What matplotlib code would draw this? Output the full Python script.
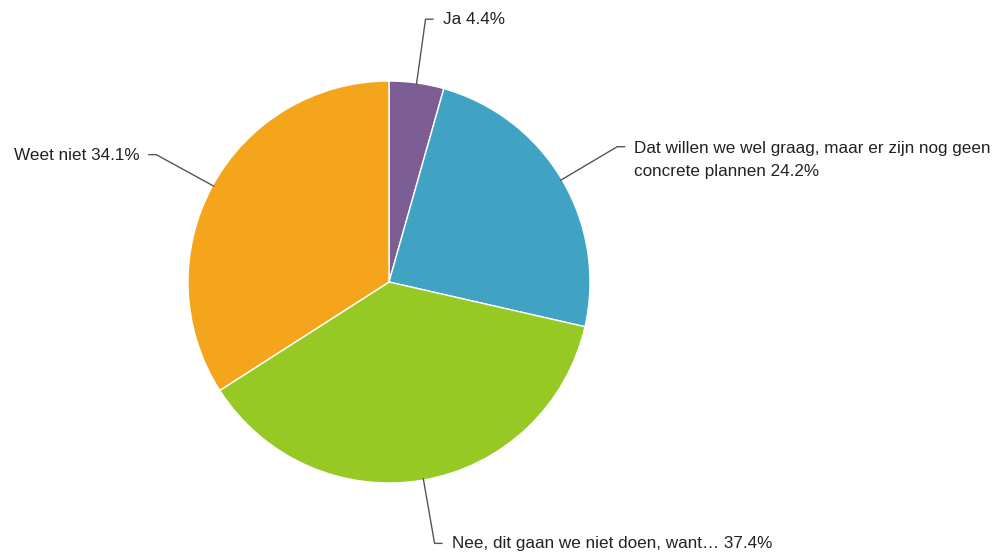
import matplotlib.pyplot as plt
import numpy as np

plt.rcParams["font.family"] = ["Liberation Sans", "DejaVu Sans"]

labels = [
    "Ja",
    "Dat willen we wel graag, maar er zijn nog geen\nconcrete plannen",
    "Nee, dit gaan we niet doen, want…",
    "Weet niet",
]
values = [4.4, 24.2, 37.4, 34.1]
colors = ["#7d5e94", "#41a3c4", "#97c925", "#f4a51c"]

# pie centre in pixels (389, 273 from bottom), radius 201 px
R_PX = 201.0
W, H = 1000, 555
cx, cy = 389, 273

fig = plt.figure(figsize=(W / 100, H / 100), dpi=100)
ax = fig.add_axes([0, 0, 1, 1])

wedges, _ = ax.pie(
    values,
    colors=colors,
    startangle=90,
    counterclock=False,
    radius=1.0,
    wedgeprops=dict(edgecolor="white", linewidth=1.0),
)
ax.set_xlim(-cx / R_PX, (W - cx) / R_PX)
ax.set_ylim(-cy / R_PX, (H - cy) / R_PX)
ax.set_aspect("equal")
ax.axis("off")

line_h = 0.122  # one text line, in data units
for w, lab, v in zip(wedges, labels, values):
    mid = np.deg2rad((w.theta1 + w.theta2) / 2)
    c, s = np.cos(mid), np.sin(mid)
    x0, y0 = 0.99 * c, 0.99 * s
    x1, y1 = 1.32 * c, 1.32 * s
    side = 1 if c >= 0 else -1
    x2 = x1 + side * 0.04
    ax.plot([x0, x1, x2], [y0, y1, y1], color="#555555", lw=1.0, solid_capstyle="butt")
    text = f"{lab} {v:.1f}%"
    ha = "left" if side > 0 else "right"
    n = text.count("\n")
    ax.text(x2 + side * 0.045, y1 - 0.025 - n * line_h, text, ha=ha, va="baseline",
            fontsize=12.3, color="#222222", linespacing=1.7)

fig.savefig("out.png", dpi=100, facecolor="white")
